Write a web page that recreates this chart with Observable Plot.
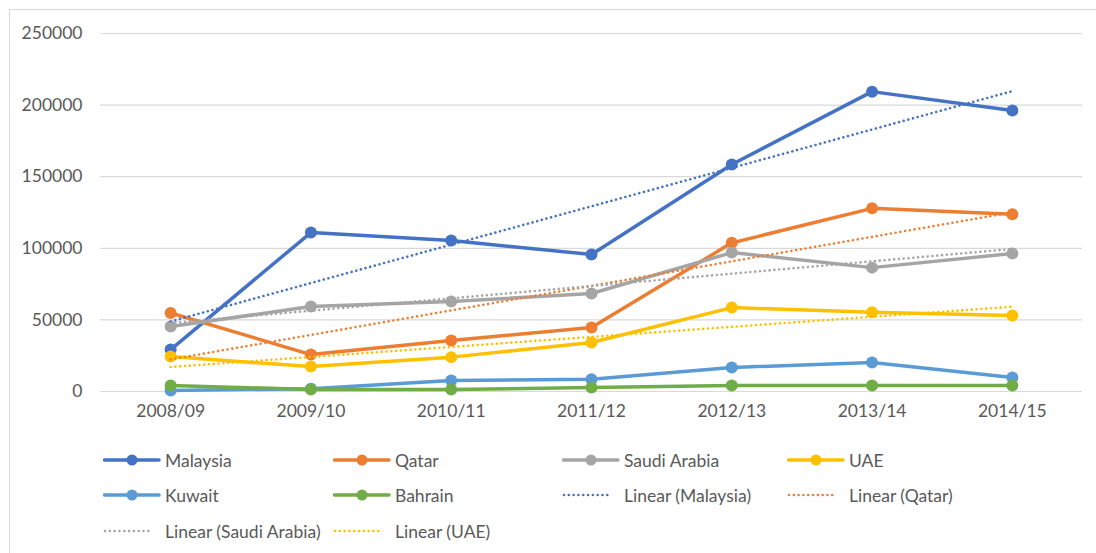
<!DOCTYPE html>
<html>
<head>
<meta charset="utf-8">
<script src="https://cdn.jsdelivr.net/npm/d3@7"></script>
<script src="https://cdn.jsdelivr.net/npm/@observablehq/plot@0.6"></script>
<style>
  html, body { margin: 0; padding: 0; background: #fff; }
  #wrap { position: relative; width: 1096px; height: 553px; overflow: hidden; font-family: Lato, "Open Sans", sans-serif; }
  #frame { position: absolute; left: 9px; top: 9px; width: 1200px; height: 700px; border: 1px solid #d9d9d9; box-sizing: border-box; }
  #chart { position: absolute; left: 0; top: 0; }
  .leg { position: absolute; display: flex; align-items: center; font-size: 17.5px; color: #595959; white-space: nowrap; }
  .leg svg { position: absolute; top: 0; }
</style>
</head>
<body>
<div id="wrap">
  <div id="frame"></div>
  <div id="chart"></div>
  <div id="legend"></div>
</div>
<script>
const years = ["2008/09", "2009/10", "2010/11", "2011/12", "2012/13", "2013/14", "2014/15"];
const countries = ["Malaysia", "Qatar", "Saudi Arabia", "UAE", "Kuwait", "Bahrain"];
const colors = ["#4472C4", "#ED7D31", "#A5A5A5", "#FFC000", "#5B9BD5", "#70AD47"];
const malaysia = [29300, 111000, 105400, 95700, 158500, 209400, 196200];
const qatar = [54800, 25800, 35600, 44700, 103800, 127900, 123800];
const saudiArabia = [45400, 59300, 62800, 68400, 97000, 86500, 96300];
const uae = [24400, 17400, 24000, 34200, 58600, 55400, 53000];
const kuwait = [700, 2000, 7700, 8600, 16800, 20200, 9800];
const bahrain = [4200, 1400, 1400, 2800, 4200, 4200, 4200];
const trendCountries = ["Malaysia", "Qatar", "Saudi Arabia", "UAE"];
const yTicks = [0, 50000, 100000, 150000, 200000, 250000];

const seriesValues = [malaysia, qatar, saudiArabia, uae, kuwait, bahrain];
const rows = [];
countries.forEach((c, k) => seriesValues[k].forEach((v, i) => rows.push({country: c, i, value: v})));
const trendRows = rows.filter(d => trendCountries.includes(d.country));

const chart = Plot.plot({
  width: 1096,
  height: 553,
  marginTop: 33,
  marginBottom: 162,
  marginLeft: 100,
  marginRight: 14,
  style: {fontFamily: "Lato, 'Open Sans', sans-serif", fontSize: "17.5px", color: "#595959", background: "transparent"},
  x: {type: "linear", domain: [-0.5, years.length - 0.5]},
  y: {domain: [0, 250000]},
  color: {domain: countries, range: colors},
  marks: [
    Plot.ruleY(yTicks, {stroke: "#d9d9d9", strokeWidth: 1.2}),
    Plot.axisY({ticks: yTicks, tickSize: 0, tickPadding: 18, tickFormat: d => String(d), label: null, fill: "#595959"}),
    Plot.axisX({ticks: years.map((_, i) => i), tickFormat: i => years[i], tickSize: 0, tickPadding: 13, label: null, fill: "#595959"}),
    Plot.line(rows, {x: "i", y: "value", z: "country", stroke: "country", strokeWidth: 3.5, strokeLinejoin: "round", strokeLinecap: "round"}),
    Plot.dot(rows, {x: "i", y: "value", fill: "country", r: 6, stroke: null}),
    Plot.linearRegressionY(trendRows, {x: "i", y: "value", stroke: "country", ci: 0, strokeWidth: 2.6, strokeDasharray: "0.01 4.8", strokeLinecap: "round"})
  ]
});
document.getElementById("chart").appendChild(chart);

// Legend
const legendItems = [
  ...countries.map((c, k) => ({label: c, color: colors[k], type: "series"})),
  ...trendCountries.map(c => ({label: `Linear (${c})`, color: colors[countries.indexOf(c)], type: "trend"}))
];
const colX = [165, 395, 624, 849];
const rowY = [460, 495, 531];
const legend = document.getElementById("legend");
legendItems.forEach((it, n) => {
  const col = n % 4, row = Math.floor(n / 4);
  const tx = colX[col], cy = rowY[row];
  const el = document.createElement("div");
  el.className = "leg";
  el.style.left = (tx - 62) + "px";
  el.style.top = (cy - 12) + "px";
  el.style.height = "24px";
  let sw;
  if (it.type === "series") {
    sw = `<svg width="58" height="24" style="left:0"><line x1="1.5" x2="56" y1="12" y2="12" stroke="${it.color}" stroke-width="3.5" stroke-linecap="round"/><circle cx="29" cy="12" r="5.5" fill="${it.color}"/></svg>`;
  } else {
    sw = `<svg width="58" height="24" style="left:0"><line x1="2" x2="50" y1="12" y2="12" stroke="${it.color}" stroke-width="2.6" stroke-dasharray="0.01 4.8" stroke-linecap="round"/></svg>`;
  }
  el.innerHTML = sw + `<span style="margin-left:62px">${it.label}</span>`;
  legend.appendChild(el);
});
</script>
</body>
</html>
